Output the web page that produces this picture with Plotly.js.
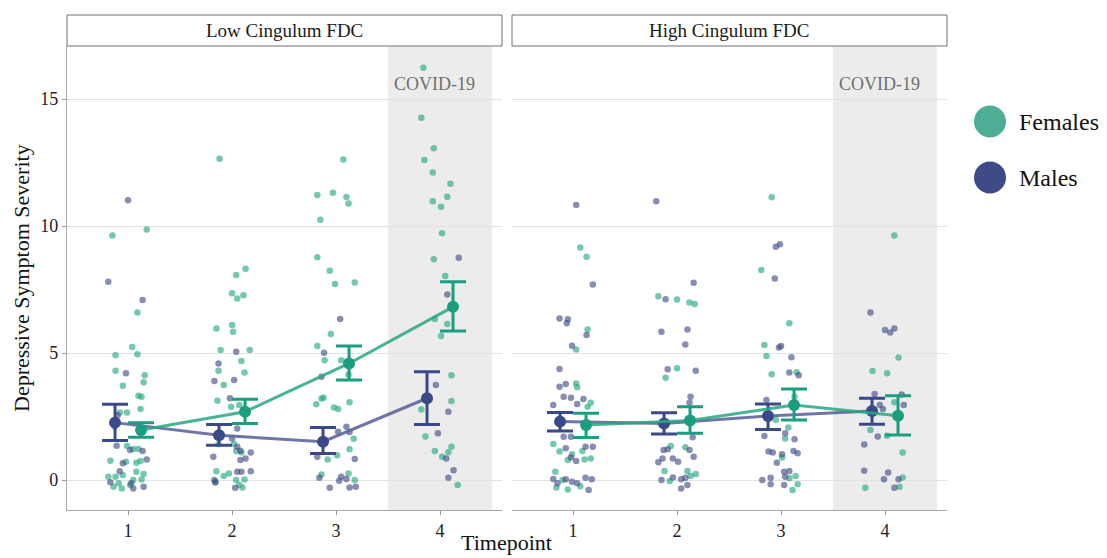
<!DOCTYPE html>
<html>
<head>
<meta charset="utf-8">
<script src="https://cdn.plot.ly/plotly-3.0.1.min.js"></script>
<style>html,body{margin:0;padding:0;background:#fff;}#chart{width:1107px;height:558px;}</style>
</head>
<body>
<div id="chart"></div>
<script>
// ---------- data ----------
const timepoints = [1, 2, 3, 4];
const tickLabels = ['1', '2', '3', '4'];
const panelNames = ['Low Cingulum FDC', 'High Cingulum FDC'];
const groupNames = ['Females', 'Males'];

// group means and error-bar ends
const lowMaleMean = [2.26, 1.76, 1.51, 3.22];
const lowMaleUpper = [2.98, 2.19, 2.07, 4.26];
const lowMaleLower = [1.56, 1.37, 1.04, 2.19];
const lowFemMean = [1.97, 2.69, 4.59, 6.82];
const lowFemUpper = [2.26, 3.18, 5.28, 7.81];
const lowFemLower = [1.68, 2.23, 3.94, 5.87];
const highMaleMean = [2.30, 2.23, 2.52, 2.72];
const highMaleUpper = [2.66, 2.65, 2.99, 3.22];
const highMaleLower = [1.93, 1.81, 1.99, 2.20];
const highFemMean = [2.17, 2.34, 2.95, 2.53];
const highFemUpper = [2.63, 2.89, 3.58, 3.32];
const highFemLower = [1.67, 1.84, 2.36, 1.77];

// individual (jittered) observations: timepoint+jitter and score
const lowFemX = [0.85,1.18,1.09,1.04,0.88,1.09,0.88,1.16,0.95,1.15,1.10,1.13,1.12,0.92,0.99,0.87,0.99,1.05,1.10,0.83,0.98,1.08,1.12,0.81,0.88,0.95,1.08,1.15,0.86,0.94,1.05,1.13,0.91,1.02,
  1.88,2.04,2.13,2.00,2.05,2.11,1.85,2.00,2.01,1.89,2.17,2.09,1.87,2.12,1.92,1.86,1.99,2.07,1.87,2.02,2.04,2.09,1.85,1.92,1.97,2.04,2.07,2.12,1.84,2.10,
  3.07,2.82,2.97,3.10,3.12,2.85,2.82,2.94,2.99,3.18,2.95,2.82,2.89,3.05,3.12,2.86,2.88,2.81,2.98,3.02,3.13,3.17,3.13,2.92,3.01,2.86,3.12,3.18,
  3.84,3.82,3.94,3.85,3.93,4.10,4.07,3.93,4.01,4.02,3.94,4.05,3.95,4.07,4.01,4.11,4.11,3.82,3.86,3.95,4.11,4.08,4.02,4.17];
const lowFemY = [9.63,9.86,6.60,5.24,4.91,4.95,4.30,4.13,3.71,3.85,3.32,3.28,2.80,2.66,2.66,2.10,1.34,1.22,1.22,0.76,0.72,0.68,0.75,0.13,0.13,0.20,0.33,0.24,-0.26,-0.33,0.00,0.02,-0.13,-0.20,
  12.65,8.07,8.32,7.35,7.15,7.28,5.97,6.10,5.84,5.12,5.12,4.69,4.30,4.23,3.74,3.12,2.89,2.95,1.41,1.42,1.14,1.08,0.35,0.16,0.26,0.00,-0.20,0.02,-0.07,-0.29,
  12.62,11.22,11.31,11.14,10.89,10.25,8.77,8.24,7.72,7.78,5.75,5.28,4.72,4.72,4.15,3.21,3.24,2.98,2.86,2.80,3.06,1.63,1.21,0.81,0.98,0.22,0.26,0.00,
  16.23,14.26,13.06,12.60,12.11,11.67,11.15,10.98,10.76,9.72,8.69,8.03,6.34,6.14,5.67,4.13,3.11,2.78,1.71,1.14,1.31,1.09,0.92,-0.20];
const lowMaleX = [1.00,0.81,1.14,0.98,0.89,0.95,0.92,0.83,1.03,1.15,1.05,1.14,1.18,1.02,0.90,
  2.04,1.87,1.83,2.02,1.98,2.05,2.00,2.05,2.08,1.82,2.08,2.18,2.13,2.05,2.09,2.18,1.83,1.84,2.03,
  3.04,2.885,2.86,3.10,3.02,3.13,2.82,3.18,2.84,3.05,3.10,3.03,2.94,3.13,3.19,
  4.18,4.07,3.96,4.08,3.98,4.06,4.13,4.08];
const lowMaleY = [11.02,7.81,7.09,4.20,1.35,0.66,0.35,-0.09,-0.13,-0.26,-0.33,1.14,0.81,1.18,2.55,
  5.05,4.59,3.90,3.94,3.22,2.03,1.64,1.31,1.15,0.92,0.79,1.08,0.85,0.33,0.33,0.35,0.00,-0.10,-0.30,
  6.34,5.01,4.07,2.10,1.90,1.89,0.92,0.83,0.09,0.13,0.04,-0.03,-0.30,-0.29,-0.26,
  8.75,7.31,3.74,2.69,1.84,0.85,0.39,0.09];
const highFemX = [1.07,1.13,1.14,1.03,1.03,1.04,1.14,1.17,0.81,0.87,1.09,0.95,1.11,1.17,0.99,0.83,0.84,0.95,1.07,0.90,
  1.82,2.00,2.12,2.17,2.00,1.89,1.94,2.08,1.88,2.10,2.18,1.93,2.13,
  2.91,2.81,3.08,2.84,2.86,2.91,3.15,3.13,2.95,3.07,3.04,3.01,3.08,3.14,3.16,3.11,
  4.09,4.13,3.88,4.02,4.09,3.86,4.02,4.17,4.17,3.81,4.14];
const highFemY = [9.16,8.79,5.93,5.14,3.80,3.65,2.89,3.04,1.42,1.12,1.14,0.79,0.81,0.85,1.02,0.33,-0.29,-0.37,-0.24,0.00,
  7.24,7.11,6.99,6.93,4.40,4.03,1.34,1.29,0.36,0.36,0.24,-0.04,0.16,
  11.13,8.27,6.17,5.32,4.88,4.17,4.24,3.28,2.36,2.07,1.64,0.89,0.07,0.16,-0.17,-0.39,
  9.63,4.82,4.29,4.20,3.06,1.97,1.74,1.08,0.10,-0.30,-0.26];
const highMaleX = [1.03,1.19,0.87,0.95,0.94,1.13,0.99,0.87,0.87,0.93,0.91,0.98,1.10,1.04,0.81,0.91,0.98,0.93,1.12,1.19,0.98,1.03,0.81,0.93,0.85,0.99,1.04,1.12,1.18,1.15,
  1.80,2.16,1.89,1.85,2.10,2.08,1.91,2.18,2.13,2.12,2.15,1.87,1.91,2.12,1.86,1.82,1.96,2.01,2.16,1.85,2.04,2.08,2.10,2.04,1.96,
  2.95,2.99,2.94,2.98,3.00,3.10,3.08,3.17,2.86,2.84,3.04,3.13,2.88,2.92,3.01,3.12,3.16,2.96,2.82,2.90,2.90,3.03,3.08,3.04,3.03,
  3.86,4.00,4.05,4.09,3.90,3.95,3.98,4.18,4.16,3.93,3.80,3.80,4.03,3.99,4.13,4.09];
const highMaleY = [10.83,7.70,6.36,6.33,6.17,5.71,5.29,4.37,3.67,3.78,3.28,3.24,3.19,2.99,2.95,1.70,1.70,1.25,1.31,1.31,0.89,0.75,0.04,0.03,-0.13,-0.07,-0.13,0.09,0.03,-0.39,
  10.98,7.77,7.12,5.84,5.93,5.34,4.36,4.30,3.28,3.04,1.68,1.18,1.21,1.18,0.85,0.70,0.85,0.72,0.92,0.00,0.03,0.09,-0.20,-0.33,0.10,
  9.19,9.28,7.94,5.22,5.28,4.83,4.23,4.13,3.15,1.73,1.84,1.61,1.12,1.08,1.02,1.14,1.05,0.68,0.00,0.09,-0.17,0.33,0.36,0.13,-0.20,
  6.60,5.91,5.81,5.97,3.39,2.95,2.80,2.95,3.37,1.71,1.40,0.37,0.30,0.03,0.03,-0.30];

// ---------- styling ----------
const FEM = '#1B9E80', MALE = '#3A4A88';
const FEM_PT = 'rgba(31,166,128,0.62)', MALE_PT = 'rgba(62,72,130,0.62)';
const FEM_LINE = 'rgba(40,166,130,0.85)', MALE_LINE = 'rgba(95,102,155,0.9)';
const FEM_KEY = '#4DAE96', MALE_KEY = '#3D4B87';
const FONT = 'Liberation Serif, Times New Roman, serif';
const DODGE = 0.125;
const W = 1107, H = 558;

function pts(x, y, col, xa, ya) {
  return {type: 'scatter', mode: 'markers', x: x, y: y, xaxis: xa, yaxis: ya,
    marker: {size: 6.5, color: col, line: {width: 0}}, hoverinfo: 'skip', showlegend: false};
}
function means(mean, up, lo, sign, col, lineCol, xa, ya) {
  return {type: 'scatter', mode: 'lines+markers', xaxis: xa, yaxis: ya,
    x: timepoints.map(t => t + sign * DODGE), y: mean,
    line: {color: lineCol, width: 3},
    marker: {size: 12, color: col},
    error_y: {type: 'data', symmetric: false,
      array: up.map((u, i) => u - mean[i]), arrayminus: mean.map((m, i) => m - lo[i]),
      color: col, thickness: 3, width: 13},
    showlegend: false};
}

const traces = [
  pts(lowFemX, lowFemY, FEM_PT, 'x', 'y'),
  pts(lowMaleX, lowMaleY, MALE_PT, 'x', 'y'),
  pts(highFemX, highFemY, FEM_PT, 'x2', 'y2'),
  pts(highMaleX, highMaleY, MALE_PT, 'x2', 'y2'),
  means(lowMaleMean, lowMaleUpper, lowMaleLower, -1, MALE, MALE_LINE, 'x', 'y'),
  means(lowFemMean, lowFemUpper, lowFemLower, 1, FEM, FEM_LINE, 'x', 'y'),
  means(highMaleMean, highMaleUpper, highMaleLower, -1, MALE, MALE_LINE, 'x2', 'y2'),
  means(highFemMean, highFemUpper, highFemLower, 1, FEM, FEM_LINE, 'x2', 'y2')
];

const px = v => v / W, py = v => (H - v) / H;
const xdom1 = [px(67), px(502)], xdom2 = [px(512), px(947)];
const ydom = [py(510), py(46)];
const xRange = [0.413, 4.596];
const yRange = [-1.18, 17.09];

const xBase = {range: xRange, tickvals: timepoints, ticktext: tickLabels, ticks: 'outside', ticklen: 4,
  tickcolor: '#9a9a9a', showline: true, linecolor: '#a8a8a8', linewidth: 1.2, showgrid: false, zeroline: false,
  tickfont: {family: FONT, size: 18, color: '#222'}, fixedrange: true};
const yBase = {range: yRange, tickvals: [0, 5, 10, 15], showgrid: true, gridcolor: '#e3e3e3', gridwidth: 1,
  zeroline: false, tickfont: {family: FONT, size: 18, color: '#222'}, fixedrange: true};

const shapes = [];
const annotations = [];
['x', 'x2'].forEach((xa, i) => {
  shapes.push({type: 'rect', xref: xa, yref: (i ? 'y2' : 'y') + ' domain', x0: 3.5, x1: 4.5, y0: 0, y1: 1,
    fillcolor: '#ececec', line: {width: 0}, layer: 'below'});
  const dom = i ? xdom2 : xdom1;
  shapes.push({type: 'rect', xref: 'paper', yref: 'paper', x0: dom[0], x1: dom[1], y0: py(46), y1: py(15),
    fillcolor: '#ffffff', line: {color: '#707070', width: 1}});
  annotations.push({xref: 'paper', yref: 'paper', x: (dom[0] + dom[1]) / 2, y: py(30.5), text: panelNames[i],
    showarrow: false, font: {family: FONT, size: 19, color: '#1a1a1a'}, xanchor: 'center', yanchor: 'middle'});
  annotations.push({xref: xa, yref: i ? 'y2' : 'y', x: 3.95, y: 15.6, text: 'COVID-19', showarrow: false,
    font: {family: FONT, size: 18, color: '#6f6f6f'}, xanchor: 'center', yanchor: 'middle'});
});
annotations.push({xref: 'paper', yref: 'paper', x: px(21), y: py(278), text: 'Depressive Symptom Severity',
  textangle: -90, showarrow: false, font: {family: FONT, size: 22, color: '#111'}, xanchor: 'center', yanchor: 'middle'});
annotations.push({xref: 'paper', yref: 'paper', x: px(506), y: py(557), text: 'Timepoint',
  showarrow: false, font: {family: FONT, size: 22, color: '#111'}, xanchor: 'center', yanchor: 'bottom'});
// legend
[[FEM_KEY, 121.5], [MALE_KEY, 177.5]].forEach((d, i) => {
  shapes.push({type: 'circle', xref: 'paper', yref: 'paper', xsizemode: 'pixel', ysizemode: 'pixel',
    xanchor: px(990), yanchor: py(d[1]), x0: -16, x1: 16, y0: -16, y1: 16,
    fillcolor: d[0], line: {width: 0}});
  annotations.push({xref: 'paper', yref: 'paper', x: px(1017), y: py(d[1]), text: groupNames[i], showarrow: false,
    font: {family: FONT, size: 24, color: '#111'}, xanchor: 'left', yanchor: 'middle'});
});

const layout = {
  width: W, height: H, margin: {l: 0, r: 0, t: 0, b: 0}, paper_bgcolor: '#fff', plot_bgcolor: 'rgba(0,0,0,0)',
  showlegend: false,
  xaxis: Object.assign({}, xBase, {domain: xdom1, anchor: 'y'}),
  yaxis: Object.assign({}, yBase, {domain: ydom, anchor: 'x', showline: true, linecolor: '#a8a8a8', linewidth: 1.2,
    ticks: 'outside', ticklen: 4, tickcolor: '#9a9a9a'}),
  xaxis2: Object.assign({}, xBase, {domain: xdom2, anchor: 'y2'}),
  yaxis2: Object.assign({}, yBase, {domain: ydom, anchor: 'x2', showticklabels: false, showline: false, ticks: ''}),
  shapes: shapes, annotations: annotations
};

Plotly.newPlot('chart', traces, layout, {displayModeBar: false, staticPlot: true});
</script>
</body>
</html>
